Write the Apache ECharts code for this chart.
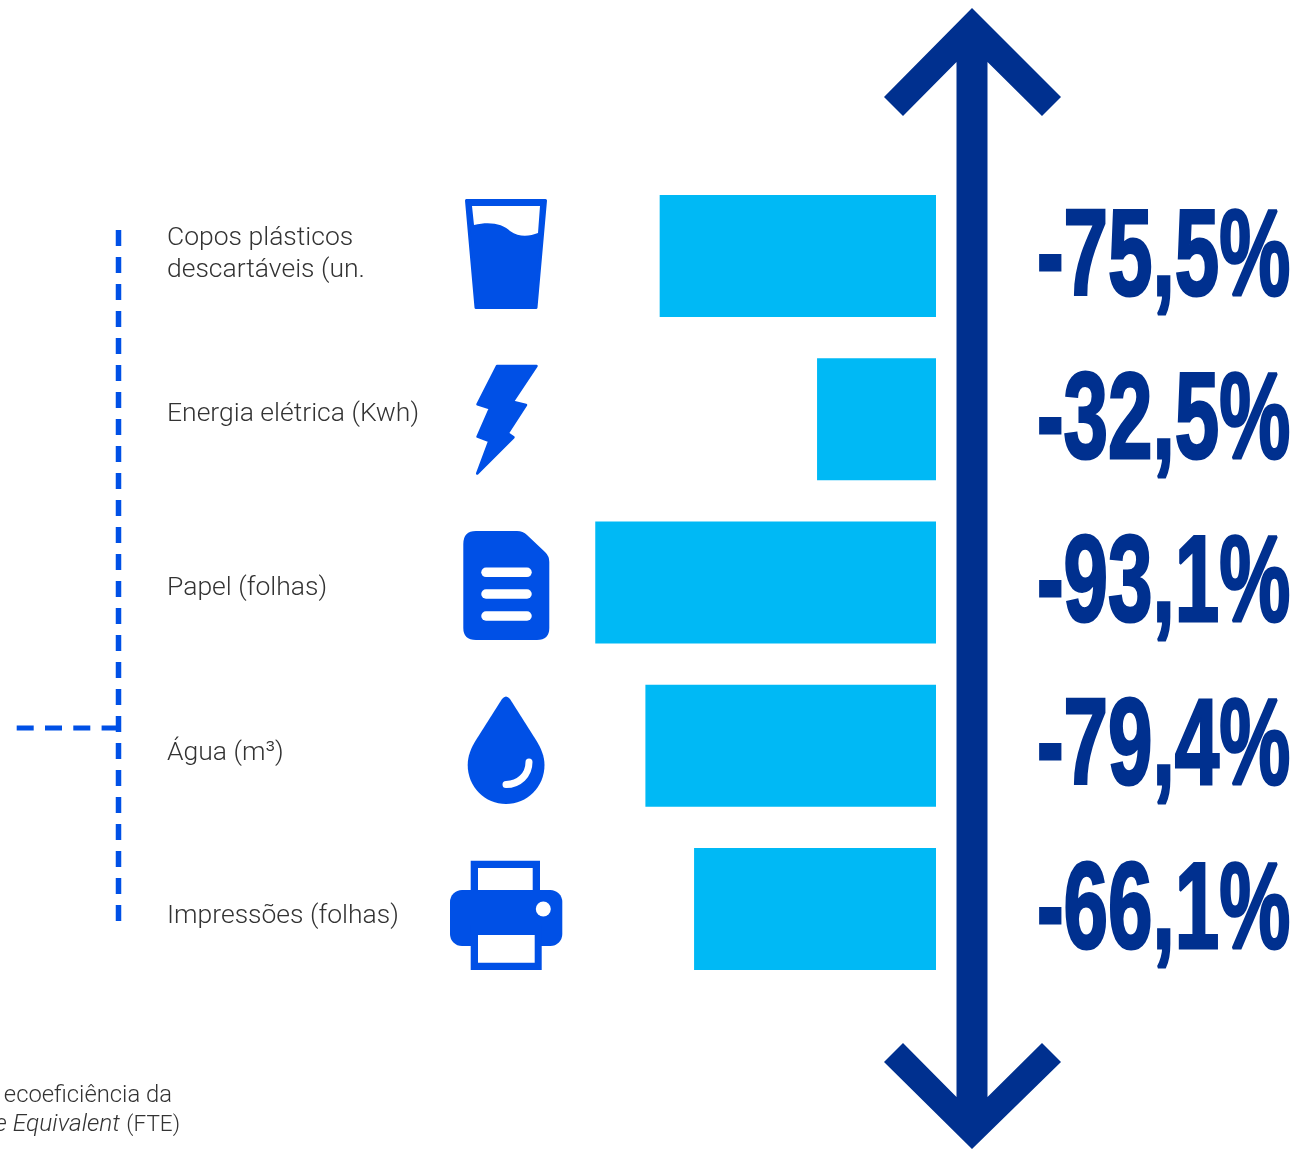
<!DOCTYPE html>
<html><head><meta charset="utf-8">
<style>html,body{margin:0;padding:0;background:#fff}#c{width:1300px;height:1149px}</style>
<script src="https://cdn.jsdelivr.net/npm/echarts@6/dist/echarts.min.js"></script>
</head><body><div id="c"></div>
<script>
const categories = ['Copos plásticos\ndescartáveis (un.', 'Energia elétrica (Kwh)', 'Papel (folhas)', 'Água (m³)', 'Impressões (folhas)'];
const reductions = [75.5, 32.5, 93.1, 79.4, 66.1];
const labelCentres = [254, 414, 588, 753, 916];

const BLUE = '#0050e6', NAVY = '#00308f', CYAN = '#00b9f5', INK = '#333333';
const TEXT_FONT = 'Roboto';

const chart = echarts.init(document.getElementById('c'), null, {renderer: 'canvas'});

let shapeCount = 0;
function svg(d, fill) {
  const name = 'iconShape' + (shapeCount++);
  echarts.graphic.registerShape(name, echarts.graphic.extendPath(d, {}));
  return {type: name, style: {fill: fill}, silent: true};
}
function poly(points, fill, strokeW) {
  return {type: 'polygon', shape: {points: points}, style: {fill: fill, stroke: strokeW ? fill : null, lineWidth: strokeW || 0, lineJoin: 'round'}, silent: true};
}
function rrect(x, y, w, h, r, fill) {
  return {type: 'rect', shape: {x: x, y: y, width: w, height: h, r: r}, style: {fill: fill}, silent: true};
}
function stroke(x1, y1, x2, y2, w, color, dash, cap) {
  return {type: 'line', shape: {x1: x1, y1: y1, x2: x2, y2: y2},
    style: {stroke: color, lineWidth: w, lineDash: dash || null, lineCap: cap || 'butt'}, silent: true};
}
function bezier(x1, y1, cx1, cy1, cx2, cy2, x2, y2, w, color) {
  return {type: 'bezierCurve', shape: {x1: x1, y1: y1, cpx1: cx1, cpy1: cy1, cpx2: cx2, cpy2: cy2, x2: x2, y2: y2},
    style: {stroke: color, lineWidth: w, lineCap: 'round', fill: null}, silent: true};
}

const icons = [
  // glass
  poly([[466.5,200.5],[545.5,200.5],[536,307.5],[476,307.5]], BLUE, 3),
  svg('M472 206 L474 225 C490 221 503 224 510 231 C520 238 530 236 538 233 L540 206 Z', '#fff'),
  // bolt
  poly([[497,366],[536.5,366],[512.7,401.7],[526,405],[507.7,433.3],[513.5,437.3],[477.2,473.5],[489.3,441],[477.5,436.7],[490,408.3],[477.5,404.3]], BLUE, 2.5),
  // paper
  svg('M476 531 L517 531 Q523 531 527 535 L545 552 Q549.3 556 549.3 562 L549.3 628 Q549.3 640 537 640 L476 640 Q463.3 640 463.3 628 L463.3 544 Q463.3 531 476 531 Z', BLUE),
  stroke(486, 572.3, 527, 572.3, 9.5, '#fff', null, 'round'),
  stroke(486, 594, 527, 594, 9.5, '#fff', null, 'round'),
  stroke(486, 616, 527, 616, 9.5, '#fff', null, 'round'),
  // drop
  svg('M502 699 Q506 694 510 699 L536 740 C541 748 544.5 756 544.5 765 C544.5 787 527 804 506 804 C485 804 467.7 787 467.7 765 C467.7 756 471 748 476 740 Z', BLUE),
  bezier(506, 784.5, 519, 784.5, 529, 775, 529, 762, 7, '#fff'),
  // printer
  rrect(470.7, 860.7, 69.3, 40, 0, BLUE),
  rrect(478, 868, 54.7, 30, 0, '#fff'),
  rrect(450, 890, 112.3, 56, 12, BLUE),
  rrect(470.7, 925, 71, 45, 0, BLUE),
  rrect(478, 935, 56.7, 27.7, 0, '#fff'),
  {type: 'circle', shape: {cx: 543.3, cy: 909, r: 7.5}, style: {fill: '#fff'}, silent: true}
];

const arrow = [
  poly([[972,8],[1061,97],[1042,116],[987.5,62],[987.5,1097],[1042,1043],[1061,1062],[972,1149],[884,1062],[903,1043],[956.5,1097],[956.5,62],[903,116],[884,97]], NAVY)
];

const bracket = [
  stroke(118.5, 230, 118.5, 922, 5.5, BLUE, [16, 11]),
  stroke(16.7, 728, 120, 728, 5, BLUE, [17, 11.3])
];

const catLabels = categories.map((t, i) => ({
  type: 'text', x: 167, y: labelCentres[i], silent: true,
  style: {text: t, font: '300 26.5px ' + TEXT_FONT, fill: INK, textAlign: 'left', textVerticalAlign: 'middle', lineHeight: 32}
}));

const footnote = [
  {type: 'text', x: 172, y: 1096, silent: true, style: {text: 'ecoeficiência da', font: '300 23.8px ' + TEXT_FONT, fill: INK, textAlign: 'right', textVerticalAlign: 'middle'}},
  {type: 'text', x: 120, y: 1125, silent: true, style: {text: 'e Equivalent', font: 'italic 300 24.5px ' + TEXT_FONT, fill: INK, textAlign: 'right', textVerticalAlign: 'middle'}},
  {type: 'text', x: 180, y: 1125, silent: true, style: {text: '(FTE)', font: '300 22.5px ' + TEXT_FONT, fill: INK, textAlign: 'right', textVerticalAlign: 'middle'}}
];

chart.setOption({
  animation: false,
  backgroundColor: '#fff',
  grid: {left: 570, width: 366, top: 174.5, height: 816},
  xAxis: {type: 'value', min: 0, max: 100, inverse: true, show: false},
  yAxis: {type: 'category', data: categories, inverse: true, show: false},
  series: [
    {type: 'bar', data: reductions, barWidth: 122, itemStyle: {color: CYAN}, silent: true},
    {type: 'custom', coordinateSystem: 'cartesian2d', silent: true, z: 5,
     encode: {x: 0, y: 1},
     data: reductions.map((v, i) => [v, i]),
     renderItem: function (params, api) {
       const pt = api.coord([0, api.value(1)]);
       const txt = '-' + api.value(0).toFixed(1).replace('.', ',') + '%';
       return {type: 'text', x: 1037, y: pt[1] + 5, scaleX: 0.655,
         style: {text: txt, font: 'bold 122px "Liberation Sans", sans-serif', fill: NAVY,
           stroke: NAVY, lineWidth: 3, textAlign: 'left', textVerticalAlign: 'middle'}};
     }}
  ],
  graphic: {elements: [].concat(arrow, bracket, icons, catLabels, footnote)}
});
</script></body></html>
